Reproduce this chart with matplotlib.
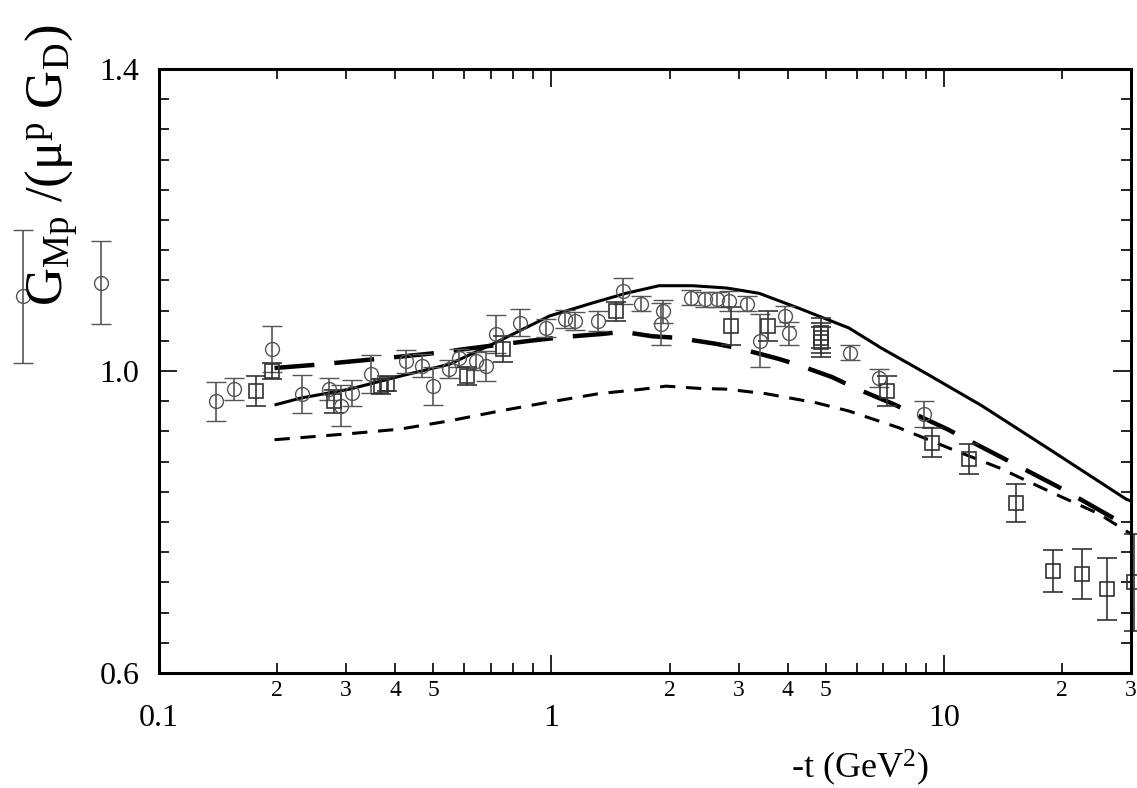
import numpy as np
import matplotlib.pyplot as plt
from matplotlib.ticker import FixedLocator, FixedFormatter, MultipleLocator, NullFormatter

plt.rcParams['font.family'] = ['Liberation Serif', 'DejaVu Serif']
plt.rcParams['mathtext.fontset'] = 'custom'
plt.rcParams['mathtext.rm'] = 'Liberation Serif'
plt.rcParams['mathtext.it'] = 'Liberation Serif:italic'

# data: -t (GeV^2), G_Mp/(mu_p G_D), error
circ_t = [0.045, 0.071, 0.140, 0.155, 0.194, 0.232, 0.272, 0.291, 0.310, 0.347,
          0.426, 0.467, 0.500, 0.548, 0.581, 0.641, 0.680, 0.724, 0.834, 0.970,
          1.08, 1.15, 1.315, 1.52, 1.69, 1.92, 1.90, 2.27, 2.46, 2.65,
          2.83, 3.16, 3.41, 3.93, 4.04, 5.77, 6.84, 8.9]
circ_g = [1.099, 1.117, 0.960, 0.976, 1.029, 0.970, 0.976, 0.954, 0.971, 0.996,
          1.013, 1.007, 0.980, 1.003, 1.017, 1.013, 1.007, 1.049, 1.064, 1.057,
          1.069, 1.066, 1.066, 1.106, 1.089, 1.079, 1.062, 1.097, 1.095, 1.095,
          1.093, 1.089, 1.040, 1.073, 1.050, 1.024, 0.991, 0.943]
circ_err = [0.088, 0.055, 0.026, 0.015, 0.030, 0.025, 0.015, 0.027, 0.017, 0.025,
            0.015, 0.015, 0.025, 0.012, 0.012, 0.012, 0.020, 0.025, 0.018, 0.012,
            0.012, 0.012, 0.013, 0.017, 0.010, 0.015, 0.028, 0.010, 0.010, 0.010,
            0.013, 0.010, 0.035, 0.013, 0.015, 0.010, 0.012, 0.017]

sq_t = [0.177, 0.194, 0.280, 0.368, 0.381, 0.608, 0.755, 1.46, 2.87, 3.56,
        4.85, 4.85, 4.85, 7.17, 9.34, 11.6, 15.3, 19.0, 22.5, 26.1, 30.5]
sq_g = [0.974, 1.000, 0.960, 0.980, 0.983, 0.993, 1.029, 1.079, 1.060, 1.060,
        1.050, 1.044, 1.038, 0.974, 0.905, 0.883, 0.825, 0.735, 0.731, 0.711, 0.720]
sq_err = [0.020, 0.010, 0.015, 0.010, 0.010, 0.012, 0.017, 0.013, 0.025, 0.020,
          0.020, 0.020, 0.020, 0.020, 0.019, 0.020, 0.025, 0.028, 0.033, 0.041, 0.064]

# model curves
solid_t = [0.197, 0.229, 0.306, 0.41, 0.55, 0.737, 0.99, 1.27, 1.55, 1.88,
           2.29, 2.79, 3.38, 4.28, 5.73, 6.95, 9.0, 12.5, 18.5, 29.2, 30.0]
solid_g = [0.955, 0.964, 0.976, 0.993, 1.009, 1.040, 1.073, 1.090, 1.103, 1.113,
           1.113, 1.110, 1.103, 1.083, 1.057, 1.030, 0.997, 0.954, 0.897, 0.830, 0.828]

ldash_t = [0.197, 0.247, 0.344, 0.49, 0.60, 0.88, 1.07, 1.34, 1.52, 1.81,
           2.09, 2.63, 3.01, 3.80, 4.20, 5.19, 5.97, 7.38, 10.2, 14.6, 20.0, 27.1, 30.0]
ldash_g = [1.004, 1.008, 1.015, 1.023, 1.029, 1.040, 1.045, 1.049, 1.052, 1.046,
           1.044, 1.036, 1.030, 1.016, 1.009, 0.992, 0.977, 0.957, 0.923, 0.881, 0.844, 0.805, 0.793]

sdash_t = [0.197, 0.306, 0.41, 0.55, 0.737, 0.99, 1.32, 1.71, 1.96, 2.38,
           2.79, 3.52, 4.72, 5.73, 7.67, 10.3, 13.8, 18.5, 24.8, 30.0]
sdash_g = [0.909, 0.917, 0.923, 0.934, 0.947, 0.959, 0.970, 0.976, 0.980, 0.977,
           0.976, 0.970, 0.958, 0.947, 0.925, 0.898, 0.872, 0.841, 0.811, 0.784]

xmajor = [0.1, 1, 10]
xmajor_lab = ['0.1', '1', '10']
xminor = [0.2, 0.3, 0.4, 0.5, 0.6, 0.7, 0.8, 0.9,
          2, 3, 4, 5, 6, 7, 8, 9, 20, 30]
xminor_lab = ['2', '3', '4', '5', '', '', '', '',
              '2', '3', '4', '5', '', '', '', '', '2', '3']
ymajor = [0.6, 1.0, 1.4]
ymajor_lab = ['0.6', '1.0', '1.4']

fig = plt.figure(figsize=(11.37, 7.88), dpi=100)
ax = fig.add_axes([0.1398, 0.1459, 0.8550, 0.7665])
ax.set_xscale('log')

ax.plot(solid_t, solid_g, color='black', lw=2.2, solid_capstyle='butt')
ax.plot(ldash_t, ldash_g, color='black', lw=3.2, dashes=(9, 4.5))
ax.plot(sdash_t, sdash_g, color='black', lw=2.2, dashes=(5, 3.5))

eb1 = ax.errorbar(circ_t, circ_g, yerr=circ_err, fmt='o', ms=10, mfc='none',
                  mec='#555555', mew=1.0, ecolor='#555555', elinewidth=1.2,
                  capsize=7, capthick=1.2)
eb2 = ax.errorbar(sq_t, sq_g, yerr=sq_err, fmt='s', ms=10, mfc='none',
                  mec='#333333', mew=1.2, ecolor='#333333', elinewidth=1.2,
                  capsize=7, capthick=1.2)
for eb in (eb1, eb2):
    eb.lines[0].set_clip_on(False)
    for a in eb.lines[1] + eb.lines[2]:
        a.set_clip_on(False)

ax.set_xlim(0.1, 30)
ax.set_ylim(0.6, 1.4)

ax.xaxis.set_major_locator(FixedLocator(xmajor))
ax.xaxis.set_major_formatter(FixedFormatter(xmajor_lab))
ax.xaxis.set_minor_locator(FixedLocator(xminor))
ax.xaxis.set_minor_formatter(FixedFormatter(xminor_lab))
ax.yaxis.set_major_locator(FixedLocator(ymajor))
ax.yaxis.set_major_formatter(FixedFormatter(ymajor_lab))
ax.yaxis.set_minor_locator(MultipleLocator(0.04))
ax.yaxis.set_minor_formatter(NullFormatter())

ax.tick_params(which='both', direction='in', top=True, right=True, width=1.2)
ax.tick_params(which='major', length=13)
ax.tick_params(which='minor', length=7)
ax.tick_params(axis='x', which='major', labelsize=23, pad=22)
ax.tick_params(axis='x', which='minor', labelsize=17, pad=5)
ax.tick_params(axis='y', which='major', labelsize=23, pad=14)
for s in ax.spines.values():
    s.set_linewidth(2.2)

fig.text(52 / 1137, 1 - 165 / 788, r'G$_{\rm Mp}$ /(μ$^{\rm p}$ G$_{\rm D}$)',
         rotation=90, fontsize=38, ha='center', va='center')
fig.text(860 / 1137, 1 - 768 / 788, r'-t (GeV$^{\rm 2}$)',
         fontsize=26, ha='center', va='center')

plt.savefig('out.png', dpi=100)
